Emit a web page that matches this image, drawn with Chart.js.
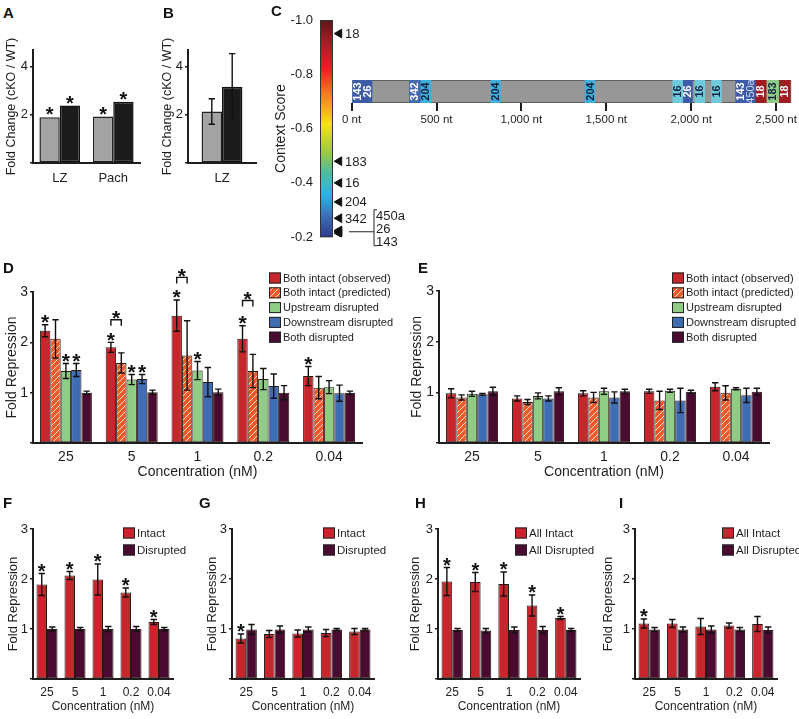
<!DOCTYPE html>
<html><head><meta charset="utf-8">
<script src="https://cdn.jsdelivr.net/npm/chart.js@4.4.1/dist/chart.umd.min.js"></script>
<style>
html,body{margin:0;padding:0;background:#fff;}
#fig{position:relative;width:799px;height:719px;overflow:hidden;font-family:'Liberation Sans',Arial,sans-serif;}
#fig canvas{position:absolute;}
.lab{position:absolute;font-weight:bold;font-size:15px;line-height:15px;color:#111;}
</style></head><body>
<div id="fig">
<canvas id="cA"></canvas><canvas id="cB"></canvas><canvas id="cBar"></canvas><canvas id="cStrip"></canvas>
<canvas id="cD"></canvas><canvas id="cE"></canvas>
<canvas id="cF"></canvas><canvas id="cG"></canvas><canvas id="cH"></canvas><canvas id="cI"></canvas>
<div class="lab" style="left:3px;top:5px">A</div>
<div class="lab" style="left:163px;top:5px">B</div>
<div class="lab" style="left:271px;top:3px">C</div>
<div class="lab" style="left:3px;top:260px">D</div>
<div class="lab" style="left:418px;top:260px">E</div>
<div class="lab" style="left:3px;top:495px">F</div>
<div class="lab" style="left:199px;top:495px">G</div>
<div class="lab" style="left:415px;top:495px">H</div>
<div class="lab" style="left:619px;top:495px">I</div>
</div>
<script>
// ---------------- DATA ----------------
// Panel A
const aCategories = ['LZ', 'Pach'];
const aGray = [1.90, 1.93];
const aBlack = [2.39, 2.55];
const aGrayStars = [1, 1];
const aBlackStars = [1, 1];
// Panel B
const bCategories = ['LZ'];
const bGray = [2.14];
const bGrayErr = [0.53];
const bBlack = [3.17];
const bBlackErr = [1.38];
// Panel C: context-score colour bar markers
const markerNames = ['18', '183', '16', '204', '342', '450a', '26', '143'];
const markerScores = [-0.95, -0.48, -0.40, -0.33, -0.27, -0.225, -0.22, -0.215];
const scoreTicksMin = -1.0;
const scoreTicksMax = -0.2;
// Panel C: 3' UTR sites (nt)
const utrLength = 2590;
const ntTicks = [0, 500, 1000, 1500, 2000, 2500];
const siteStart = [0, 340, 405, 820, 1375, 1892, 1950, 2022, 2120, 2262, 2378, 2442, 2515];
const siteEnd   = [120, 405, 468, 877, 1433, 1950, 2007, 2080, 2178, 2378, 2442, 2515, 2583];
const siteLabels = ['143|26', '342', '204', '204', '204', '16', '26', '16', '16', '143|450a', '18', '183', '18'];
// Panels D-I
const concentrations = ['25', '5', '1', '0.2', '0.04'];
const dSeriesNames = ['Both intact (observed)', 'Both intact (predicted)', 'Upstream disrupted', 'Downstream disrupted', 'Both disrupted'];
// Panel D
const dObserved = [2.23, 1.90, 2.53, 2.07, 1.33];
const dObservedErr = [0.12, 0.10, 0.31, 0.26, 0.19];
const dPredicted = [2.07, 1.59, 1.74, 1.43, 1.10];
const dPredictedErr = [0.38, 0.20, 0.69, 0.33, 0.22];
const dUpstream = [1.43, 1.26, 1.44, 1.27, 1.11];
const dUpstreamErr = [0.15, 0.10, 0.18, 0.21, 0.13];
const dDownstream = [1.45, 1.27, 1.21, 1.13, 0.99];
const dDownstreamErr = [0.13, 0.09, 0.29, 0.24, 0.16];
const dBoth = [1.00, 1.01, 1.01, 1.00, 1.00];
const dBothErr = [0.03, 0.04, 0.06, 0.14, 0.03];
const dObservedStars = [1, 1, 1, 1, 1];
const dUpstreamStars = [1, 1, 1, 0, 0];
const dDownstreamStars = [1, 1, 0, 0, 0];
const dBracketLevels = [null, 2.45, 3.29, 2.83, null];
// Panel E
const eObserved = [0.98, 0.88, 0.98, 1.02, 1.11];
const eObservedErr = [0.09, 0.05, 0.05, 0.04, 0.08];
const ePredicted = [0.90, 0.81, 0.90, 0.84, 0.99];
const ePredictedErr = [0.05, 0.05, 0.10, 0.18, 0.14];
const eUpstream = [0.97, 0.93, 1.02, 1.03, 1.07];
const eUpstreamErr = [0.05, 0.06, 0.06, 0.03, 0.02];
const eDownstream = [0.96, 0.88, 0.90, 0.84, 0.94];
const eDownstreamErr = [0.02, 0.05, 0.11, 0.24, 0.14];
const eBoth = [1.02, 1.02, 1.02, 1.01, 1.01];
const eBothErr = [0.08, 0.07, 0.04, 0.03, 0.07];
// Panel F
const fIntact = [1.89, 2.07, 1.99, 1.73, 1.14];
const fIntactErr = [0.22, 0.08, 0.31, 0.09, 0.05];
const fDisrupted = [1.00, 1.00, 1.00, 1.00, 1.00];
const fDisruptedErr = [0.04, 0.03, 0.05, 0.05, 0.03];
const fStars = [1, 1, 1, 1, 1];
// Panel G
const gIntact = [0.81, 0.90, 0.91, 0.92, 0.95];
const gIntactErr = [0.09, 0.07, 0.07, 0.07, 0.06];
const gDisrupted = [0.99, 0.99, 0.99, 0.99, 0.99];
const gDisruptedErr = [0.10, 0.07, 0.05, 0.02, 0.02];
const gStars = [1, 0, 0, 0, 0];
// Panel H
const hIntact = [1.95, 1.94, 1.90, 1.47, 1.22];
const hIntactErr = [0.28, 0.19, 0.24, 0.21, 0.03];
const hDisrupted = [0.98, 0.97, 0.98, 0.98, 0.98];
const hDisruptedErr = [0.03, 0.04, 0.06, 0.07, 0.03];
const hStars = [1, 1, 1, 1, 1];
// Panel I
const iIntact = [1.11, 1.11, 1.05, 1.07, 1.10];
const iIntactErr = [0.09, 0.08, 0.16, 0.05, 0.15];
const iDisrupted = [0.99, 0.99, 0.99, 0.99, 0.98];
const iDisruptedErr = [0.04, 0.05, 0.07, 0.04, 0.06];
const iStars = [1, 0, 0, 0, 0];

// ---------------- STYLE ----------------
const FONT = "'Liberation Sans', Arial, sans-serif";
const AXIS = '#1e1e1e', TXT = '#1e1e1e';
const RED = '#c8262d', ORANGE = '#f05a29', GREEN = '#8fcd84', BLUE = '#3e6db4', PURPLE = '#4a0b30';
const siteColors = {'143': '#3d5ba6', '26': '#3d5ba6', '342': '#4268b0', '204': '#3fb0dc', '16': '#6fcadb', '18': '#a01c22', '183': '#8fca88'};
const siteTextColors = {'143': '#ffffff', '26': '#ffffff', '342': '#ffffff', '204': '#13233f', '16': '#13233f', '18': '#ffffff', '183': '#13233f', '450a': '#c9d6f2'};
const gradientStops = [[0, '#5a1719'], [0.1, '#a31d24'], [0.22, '#ec1c24'], [0.35, '#f5821f'], [0.48, '#f8e01b'], [0.6, '#a2cc3c'], [0.7, '#52bb9c'], [0.8, '#2cb6e6'], [0.9, '#3b72b8'], [1, '#2f3a8f']];

Chart.defaults.font.family = FONT;
Chart.defaults.color = TXT;

function hatch() {
  const c = document.createElement('canvas'); c.width = 6; c.height = 6;
  const x = c.getContext('2d');
  x.fillStyle = ORANGE; x.fillRect(0, 0, 6, 6);
  x.strokeStyle = 'rgba(255,255,255,0.9)'; x.lineWidth = 0.9;
  x.beginPath();
  x.moveTo(-1, 7); x.lineTo(7, -1);
  x.moveTo(-1, 1); x.lineTo(1, -1);
  x.moveTo(5, 7); x.lineTo(7, 5);
  x.stroke();
  return x.createPattern(c, 'repeat');
}
const PRED = hatch();

function place(id, g) {
  const c = document.getElementById(id);
  c.width = g.W; c.height = g.H;
  c.style.left = g.L + 'px'; c.style.top = g.T + 'px';
  c.style.width = g.W + 'px'; c.style.height = g.H + 'px';
  return c;
}

const CAP = 3.2;
function drawStar(ctx, x, yBottom, fs) {
  ctx.save();
  ctx.font = 'bold ' + fs + 'px ' + FONT;
  ctx.fillStyle = '#111';
  ctx.textAlign = 'center';
  ctx.textBaseline = 'alphabetic';
  ctx.fillText('*', x, yBottom + 0.40 * fs);
  ctx.restore();
}

function annot(s, g) {
  return {
    id: 'annot',
    afterDatasetsDraw(chart) {
      const ctx = chart.ctx, ys = chart.scales.y;
      ctx.save();
      s.series.forEach((d, di) => {
        const meta = chart.getDatasetMeta(di);
        meta.data.forEach((bar, i) => {
          const v = d.values[i];
          const e = d.err ? d.err[i] : null;
          let top = ys.getPixelForValue(v);
          if (e != null) {
            const yh = ys.getPixelForValue(v + e), yl = ys.getPixelForValue(v - e);
            ctx.strokeStyle = '#111'; ctx.lineWidth = 1.4;
            ctx.beginPath();
            ctx.moveTo(bar.x, yh); ctx.lineTo(bar.x, yl);
            ctx.moveTo(bar.x - CAP, yh); ctx.lineTo(bar.x + CAP, yh);
            ctx.moveTo(bar.x - CAP, yl); ctx.lineTo(bar.x + CAP, yl);
            ctx.stroke();
            top = Math.min(top, yh);
          }
          if (d.stars && d.stars[i]) drawStar(ctx, bar.x, top - s.starGap, s.starSize);
        });
      });
      if (s.brackets) {
        s.brackets.forEach((lvl, i) => {
          if (lvl == null) return;
          const a = chart.getDatasetMeta(0).data[i], b = chart.getDatasetMeta(1).data[i];
          const y = ys.getPixelForValue(lvl);
          ctx.strokeStyle = '#111'; ctx.lineWidth = 1.4;
          ctx.beginPath();
          ctx.moveTo(a.x, y + 6); ctx.lineTo(a.x, y); ctx.lineTo(b.x, y); ctx.lineTo(b.x, y + 6);
          ctx.stroke();
          drawStar(ctx, (a.x + b.x) / 2, y - 3, s.starSize);
        });
      }
      ctx.restore();
    },
    afterDraw(chart) {
      if (!s.legend) return;
      const L = s.legend, ctx = chart.ctx;
      ctx.save();
      ctx.font = L.font + 'px ' + FONT;
      ctx.textBaseline = 'middle';
      s.series.forEach((d, i) => {
        const x = L.x - g.L, y = L.y - g.T + i * L.dy;
        ctx.fillStyle = d.fill;
        ctx.fillRect(x, y - L.bh / 2, L.bw, L.bh);
        ctx.strokeStyle = '#222'; ctx.lineWidth = 1;
        ctx.strokeRect(x + 0.5, y - L.bh / 2 + 0.5, L.bw - 1, L.bh - 1);
        ctx.fillStyle = TXT;
        ctx.fillText(d.name, x + L.bw + 2, y + 0.5);
      });
      ctx.restore();
    }
  };
}

function barPanel(id, g, s) {
  const el = place(id, g);
  const ds = s.series.map(d => ({
    label: d.name, data: d.values, backgroundColor: d.fill,
    borderColor: d.border || '#2a1717', borderWidth: s.borderWidth || 1, borderSkipped: false,
    categoryPercentage: s.catPct, barPercentage: 1
  }));
  return new Chart(el, {
    type: 'bar',
    data: {labels: s.labels, datasets: ds},
    options: {
      responsive: false, animation: false, devicePixelRatio: 1,
      layout: {padding: {left: 0, top: g.pt - g.T, right: g.L + g.W - g.pr, bottom: 0}},
      plugins: {legend: {display: false}, tooltip: {enabled: false}},
      scales: {
        x: {
          grid: {display: false, drawTicks: false},
          border: {display: true, color: AXIS, width: 2},
          ticks: {font: {size: s.xTickSize}, color: TXT, padding: g.xTickCY - g.pb - 0.6 * s.xTickSize, maxRotation: 0, autoSkip: false},
          title: s.xTitle ? {display: true, text: s.xTitle, font: {size: s.xTitleSize}, color: TXT,
                  padding: {top: 0, bottom: g.T + g.H - g.xTitleY - 0.6 * s.xTitleSize}} : {display: false},
          afterFit: sc => { sc.height = g.T + g.H - g.pb; }
        },
        y: {
          min: 0, max: s.yMax,
          ticks: {stepSize: s.yStep, includeBounds: false, font: {size: s.yTickSize}, color: TXT, padding: 2,
                  callback: v => v === 0 ? '' : String(v)},
          grid: {display: true, drawOnChartArea: false, drawTicks: true, tickLength: 3, color: AXIS, lineWidth: 1.5},
          border: {display: true, color: AXIS, width: 2},
          title: {display: true, text: s.yTitle, font: {size: s.yTitleSize}, color: TXT,
                  padding: {top: g.yTitleX - g.L - 0.6 * s.yTitleSize, bottom: 0}},
          afterFit: sc => { sc.width = g.pl - g.L; }
        }
      }
    },
    plugins: [annot(s, g)]
  });
}

// ---------------- PANEL A ----------------
barPanel('cA', {L: 0, T: 25, W: 150, H: 170, pl: 33, pt: 50, pr: 140, pb: 163, yTitleX: 12, xTickCY: 178}, {
  labels: aCategories, yMax: 4.7, yStep: 2, yTitle: 'Fold Change (cKO / WT)', yTitleSize: 12.5, yTickSize: 13, xTickSize: 13,
  catPct: 0.76, borderWidth: 1.5, starSize: 20, starGap: 4,
  series: [
    {name: 'Series 1', values: aGray, fill: '#a3a3a3', border: '#222', stars: aGrayStars},
    {name: 'Series 2', values: aBlack, fill: '#1b1b1b', border: '#111', stars: aBlackStars}
  ]
});
// ---------------- PANEL B ----------------
barPanel('cB', {L: 156, T: 25, W: 104, H: 170, pl: 188, pt: 50, pr: 256, pb: 163, yTitleX: 168, xTickCY: 178}, {
  labels: bCategories, yMax: 4.7, yStep: 2, yTitle: 'Fold Change (cKO / WT)', yTitleSize: 12.5, yTickSize: 13, xTickSize: 13,
  catPct: 0.6, borderWidth: 1.5, starSize: 20, starGap: 4,
  series: [
    {name: 'Series 1', values: bGray, err: bGrayErr, fill: '#a3a3a3', border: '#222'},
    {name: 'Series 2', values: bBlack, err: bBlackErr, fill: '#1b1b1b', border: '#111'}
  ]
});

// ---------------- PANEL C: colour bar ----------------
(function () {
  const g = {L: 268, T: 0, W: 140, H: 252};
  const el = place('cBar', g);
  const markerX = 2.4;
  new Chart(el, {
    type: 'scatter',
    data: {datasets: [{
      label: 'miRNA sites', data: markerScores.map(s => ({x: markerX, y: s})),
      pointStyle: 'triangle', pointRotation: 270, pointRadius: 5, pointHoverRadius: 5,
      backgroundColor: '#111', borderColor: '#111', borderWidth: 1
    }]},
    options: {
      responsive: false, animation: false, devicePixelRatio: 1,
      layout: {padding: {left: 0, top: 20, right: 8, bottom: 14}},
      plugins: {legend: {display: false}, tooltip: {enabled: false}},
      scales: {
        x: {display: false, min: 0, max: 10},
        y: {
          min: scoreTicksMin, max: scoreTicksMax, reverse: true,
          ticks: {stepSize: 0.2, callback: v => v.toFixed(1), font: {size: 13}, color: TXT, padding: 7},
          grid: {display: false, drawTicks: false},
          border: {display: false},
          title: {display: true, text: 'Context Score', font: {size: 14}, color: TXT, padding: {top: 13 - 8.4, bottom: 0}},
          afterFit: sc => { sc.width = 52; }
        }
      }
    },
    plugins: [{
      id: 'cbar',
      beforeDatasetsDraw(chart) {
        const {ctx, chartArea: a} = chart;
        const grad = ctx.createLinearGradient(0, a.top, 0, a.bottom);
        gradientStops.forEach(([t, c]) => grad.addColorStop(t, c));
        ctx.save();
        ctx.fillStyle = grad;
        ctx.fillRect(a.left, a.top, 13, a.bottom - a.top);
        ctx.strokeStyle = '#333'; ctx.lineWidth = 1;
        ctx.strokeRect(a.left + 0.5, a.top + 0.5, 12, a.bottom - a.top - 1);
        ctx.restore();
      },
      afterDraw(chart) {
        const {ctx, chartArea: a} = chart, ys = chart.scales.y;
        ctx.save();
        ctx.font = '13px ' + FONT; ctx.fillStyle = TXT; ctx.textBaseline = 'middle'; ctx.textAlign = 'left';
        for (let i = 0; i < 5; i++) ctx.fillText(markerNames[i], a.left + 25, ys.getPixelForValue(markerScores[i]) + 1);
        const grp = [5, 6, 7];
        const yc = grp.reduce((s, i) => s + ys.getPixelForValue(markerScores[i]), 0) / grp.length;
        ctx.strokeStyle = '#222'; ctx.lineWidth = 1;
        ctx.beginPath();
        ctx.moveTo(a.left + 29, yc); ctx.lineTo(a.left + 54, yc);
        ctx.moveTo(a.left + 57, yc - 22); ctx.lineTo(a.left + 54, yc - 22); ctx.lineTo(a.left + 54, yc + 14); ctx.lineTo(a.left + 57, yc + 14);
        ctx.stroke();
        grp.forEach((i, k) => ctx.fillText(markerNames[i], a.left + 56, yc - 15 + k * 13));
        ctx.restore();
      }
    }]
  });
})();

// ---------------- PANEL C: 3' UTR strip ----------------
(function () {
  const g = {L: 340, T: 70, W: 459, H: 65};
  const el = place('cStrip', g);
  const sites = siteLabels.map((lab, i) => {
    const first = lab.split('|')[0];
    return {label: 'miR-' + lab.replace('|', '/'), data: [[siteStart[i], siteEnd[i]]], backgroundColor: siteColors[first],
            borderWidth: 0, order: 0, _names: lab.split('|')};
  });
  const gray = {label: "3' UTR", data: [[0, utrLength]], backgroundColor: '#979797', borderColor: '#4a4a4a', borderWidth: 1,
                borderSkipped: false, order: 1};
  new Chart(el, {
    type: 'bar',
    data: {labels: ["3' UTR"], datasets: [...sites, gray]},
    options: {
      indexAxis: 'y', responsive: false, animation: false, devicePixelRatio: 1,
      layout: {padding: {left: 8, right: 6, top: 10, bottom: 0}},
      datasets: {bar: {grouped: false, categoryPercentage: 1, barPercentage: 1}},
      plugins: {legend: {display: false}, tooltip: {enabled: false}},
      scales: {
        x: {
          type: 'linear', min: -12, max: utrLength,
          afterBuildTicks: sc => { sc.ticks = ntTicks.map(v => ({value: v})); },
          ticks: {autoSkip: false, maxRotation: 0, font: {size: 11.5}, color: TXT, padding: 2,
                  callback: v => v.toLocaleString('en-US') + ' nt'},
          grid: {display: true, drawOnChartArea: false, drawTicks: true, tickLength: 8, color: AXIS, lineWidth: 2},
          border: {display: false},
          afterFit: sc => { sc.height = 32; }
        },
        y: {display: false}
      }
    },
    plugins: [{
      id: 'sitelabels',
      afterDatasetsDraw(chart) {
        const ctx = chart.ctx;
        ctx.save();
        chart.data.datasets.forEach((d, di) => {
          if (!d._names) return;
          const bar = chart.getDatasetMeta(di).data[0];
          const x0 = Math.min(bar.base, bar.x), w = Math.abs(bar.x - bar.base);
          const n = d._names.length;
          d._names.forEach((nm, k) => {
            const cx = x0 + w * (k + 0.5) / n;
            ctx.save();
            ctx.translate(cx, bar.y);
            ctx.rotate(-Math.PI / 2);
            ctx.font = (nm === '450a' ? '' : 'bold ') + '11px ' + FONT;
            ctx.fillStyle = siteTextColors[nm];
            ctx.textAlign = 'center'; ctx.textBaseline = 'middle';
            ctx.fillText(nm, 0, 0.5);
            ctx.restore();
          });
        });
        ctx.restore();
      }
    }]
  });
})();

// ---------------- PANELS D & E ----------------
function dePanel(id, g, vals, errs, stars, brackets, legendX) {
  barPanel(id, g, {
    labels: concentrations, yMax: 3, yStep: 1, yTitle: 'Fold Repression', yTitleSize: 14, yTickSize: 14,
    xTickSize: 14, xTitle: 'Concentration (nM)', xTitleSize: 14, catPct: 0.79, starSize: 21, starGap: 4,
    brackets: brackets,
    legend: {x: legendX, y: 278, dy: 14.8, bw: 12, bh: 11, font: 11},
    series: [
      {name: dSeriesNames[0], values: vals[0], err: errs[0], fill: RED, stars: stars[0]},
      {name: dSeriesNames[1], values: vals[1], err: errs[1], fill: PRED, stars: stars[1]},
      {name: dSeriesNames[2], values: vals[2], err: errs[2], fill: GREEN, stars: stars[2]},
      {name: dSeriesNames[3], values: vals[3], err: errs[3], fill: BLUE, stars: stars[3]},
      {name: dSeriesNames[4], values: vals[4], err: errs[4], fill: PURPLE, stars: stars[4]}
    ]
  });
}
dePanel('cD', {L: 0, T: 255, W: 400, H: 230, pl: 33, pt: 292, pr: 362, pb: 443, yTitleX: 12.5, xTickCY: 457, xTitleY: 472},
  [dObserved, dPredicted, dUpstream, dDownstream, dBoth],
  [dObservedErr, dPredictedErr, dUpstreamErr, dDownstreamErr, dBothErr],
  [dObservedStars, null, dUpstreamStars, dDownstreamStars, null], dBracketLevels, 269);
dePanel('cE', {L: 405, T: 255, W: 394, H: 230, pl: 439, pt: 291, pr: 769, pb: 443, yTitleX: 417, xTickCY: 457, xTitleY: 472},
  [eObserved, ePredicted, eUpstream, eDownstream, eBoth],
  [eObservedErr, ePredictedErr, eUpstreamErr, eDownstreamErr, eBothErr],
  [null, null, null, null, null], null, 672);

// ---------------- PANELS F-I ----------------
function smallPanel(id, g, names, intact, intactErr, dis, disErr, stars, legendX) {
  barPanel(id, g, {
    labels: concentrations, yMax: 3, yStep: 1, yTitle: 'Fold Repression', yTitleSize: 13, yTickSize: 13,
    xTickSize: 12, xTitle: 'Concentration (nM)', xTitleSize: 12, catPct: 0.75, starSize: 20, starGap: 4,
    legend: {x: legendX, y: 533, dy: 17, bw: 12, bh: 11, font: 11.5},
    series: [
      {name: names[0], values: intact, err: intactErr, fill: RED, stars: stars},
      {name: names[1], values: dis, err: disErr, fill: PURPLE}
    ]
  });
}
smallPanel('cF', {L: 0, T: 500, W: 200, H: 219, pl: 33, pt: 529, pr: 173, pb: 679, yTitleX: 13, xTickCY: 693, xTitleY: 707},
  ['Intact', 'Disrupted'], fIntact, fIntactErr, fDisrupted, fDisruptedErr, fStars, 123);
smallPanel('cG', {L: 200, T: 500, W: 200, H: 219, pl: 232, pt: 529, pr: 374, pb: 679, yTitleX: 212, xTickCY: 693, xTitleY: 707},
  ['Intact', 'Disrupted'], gIntact, gIntactErr, gDisrupted, gDisruptedErr, gStars, 323);
smallPanel('cH', {L: 400, T: 500, W: 200, H: 219, pl: 438, pt: 529, pr: 580, pb: 679, yTitleX: 415, xTickCY: 693, xTitleY: 707},
  ['All Intact', 'All Disrupted'], hIntact, hIntactErr, hDisrupted, hDisruptedErr, hStars, 515);
smallPanel('cI', {L: 600, T: 500, W: 199, H: 219, pl: 635, pt: 529, pr: 777, pb: 679, yTitleX: 608, xTickCY: 693, xTitleY: 707},
  ['All Intact', 'All Disrupted'], iIntact, iIntactErr, iDisrupted, iDisruptedErr, iStars, 722);
</script>
</body></html>
